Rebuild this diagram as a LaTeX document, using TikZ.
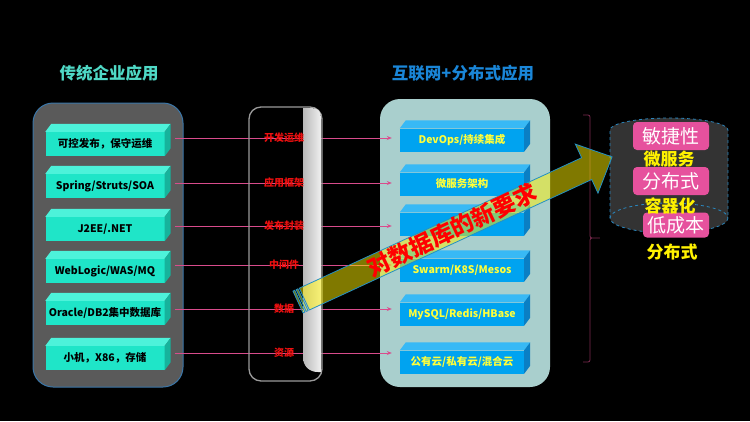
\documentclass[tikz,border=0pt]{standalone}
\usepackage{fontspec}
\setmainfont{Noto Sans CJK SC}
\usepackage{tikz}
\usetikzlibrary{positioning,arrows.meta,calc}
\definecolor{TitleTeal}{HTML}{4FD9C6}
\definecolor{TitleBlue}{HTML}{1A86D8}
\definecolor{PanelGray}{HTML}{5A5A5A}
\definecolor{PanelEdge}{HTML}{3A76A8}
\definecolor{PanelBlue}{HTML}{A9CFCD}
\definecolor{LeftFront}{HTML}{1FE5C8}
\definecolor{LeftTop}{HTML}{4DF2DA}
\definecolor{LeftSide}{HTML}{16B39C}
\definecolor{RightFront}{HTML}{00A3F0}
\definecolor{RightTop}{HTML}{38B9F5}
\definecolor{RightSide}{HTML}{0A7FC4}
\definecolor{BoxYellow}{HTML}{FFFF3A}
\definecolor{LinkPink}{HTML}{D94C8C}
\definecolor{LabelRed}{HTML}{F01010}
\definecolor{BarEdge}{HTML}{9A9A9A}
\definecolor{BraceRed}{HTML}{7A2A4E}
\definecolor{CylGray}{HTML}{333333}
\definecolor{CylEdge}{HTML}{2A86BE}
\definecolor{TagPink}{HTML}{E6519D}
\definecolor{BannerEdge}{HTML}{2390C4}

\begin{document}
\begin{tikzpicture}[x=1pt,y=-1pt,
          every node/.style={font=\bfseries},
          lbox/.style={fill=LeftFront, minimum width=119pt, minimum height=24pt,
            inner sep=0pt, text=black, font=\bfseries\fontsize{10.5}{12}\selectfont},
          rbox/.style={fill=RightFront, minimum width=124pt, minimum height=23pt,
            inner sep=0pt, text=BoxYellow, font=\bfseries\fontsize{10.5}{12}\selectfont},
          link/.style={-{Stealth[length=5pt,width=4pt]},LinkPink,line width=0.8pt},
          mlabel/.style={text=LabelRed, font=\bfseries\fontsize{10}{12}\selectfont},
          tag/.style={fill=TagPink, rounded corners=4pt, text=white, inner sep=0pt,
            minimum width=76pt, minimum height=28pt, font=\fontsize{19}{21}\selectfont},
          ytext/.style={text=yellow, font=\bfseries\fontsize{17}{19}\selectfont}]
        \fill[black] (0,0) rectangle (750,421);
        \useasboundingbox (0,0) rectangle (750,421);
        % titles
        \node[text=TitleTeal, font=\bfseries\fontsize{16.5}{18}\selectfont] (ltitle) at (109,73) {传统企业应用};
        \node[text=TitleBlue, font=\bfseries\fontsize{16.5}{18}\selectfont] (rtitle) at (463,73) {互联网+分布式应用};
        % panels
        \draw[fill=PanelGray, draw=PanelEdge, line width=1pt, rounded corners=20pt]
          (33,103) rectangle (183,387);
        \fill[PanelBlue, rounded corners=20pt] (380,99) rectangle (550,387);
        % left boxes
        \foreach \i/\y/\txt in {1/144/{可控发布，保守运维},2/186/{Spring/Struts/SOA},
            3/229/{J2EE/.NET},4/271/{WebLogic/WAS/MQ},
            5/313/{Oracle/DB2集中数据库},6/358/{小机，X86，存储}}{
          \node[lbox] (l\i) at (105,\y) {\txt};
          \fill[LeftTop] (l\i.north west) -- ++(6,-8) -- ([shift={(6,-8)}]l\i.north east)
            -- (l\i.north east) -- cycle;
          \fill[LeftSide] (l\i.north east) -- ++(6,-8) -- ([shift={(6,-8)}]l\i.south east)
            -- (l\i.south east) -- cycle;
        }
        % right boxes
        \foreach \i/\y/\txt in {1/140/{DevOps/持续集成},2/184/{微服务架构},3/224/{},
            4/270/{Swarm/K8S/Mesos},5/314/{MySQL/Redis/HBase},6/362/{公有云/私有云/混合云}}{
          \node[rbox] (r\i) at (462,\y) {\txt};
          \fill[RightTop] (r\i.north west) -- ++(6,-8) -- ([shift={(6,-8)}]r\i.north east)
            -- (r\i.north east) -- cycle;
          \fill[RightSide] (r\i.north east) -- ++(6,-8) -- ([shift={(6,-8)}]r\i.south east)
            -- (r\i.south east) -- cycle;
        }
        % links
        \foreach \i/\y in {1/138,2/183,3/226,4/265,5/309,6/353}{
          \coordinate (m\i) at (284,\y);
          \draw[link] ([xshift=10pt]l\i.east |- m\i) -- ([xshift=-8pt]r\i.west |- m\i);
        }
        % middle bar
        \draw[BarEdge, line width=1.3pt, rounded corners=12pt] (249,107) rectangle (322,381);
        \shade[left color=gray!55, right color=gray!12]
          (303,108) -- (311,108) .. controls (318,108) and (321,111) .. (321,118)
          -- (321,372) -- (318,372) .. controls (309,372) and (303,366) .. (303,357) -- cycle;
        \foreach \i/\txt in {1/开发运维,2/应用框架,3/发布封装,4/中间件,5/数据,6/资源}{
          \node[mlabel] (mt\i) at (m\i) {\txt};
        }
        % brace
        \draw[BraceRed, line width=0.8pt, rounded corners=2pt]
          (583,115) -- (590,115) -- (590,238) -- (601,238) -- (590,238)
          -- (590,362) -- (583,362);
        % cylinder
        \fill[CylGray] (610,130) rectangle (728,218);
        \fill[CylGray] (669,130) ellipse [x radius=59, y radius=12];
        \fill[CylGray] (669,218) ellipse [x radius=59, y radius=15];
        \draw[CylEdge, dashed, line width=0.8pt]
          (610,218) -- (610,130) .. controls (610,123.4) and (636.4,118) .. (669,118)
          .. controls (701.6,118) and (728,123.4) .. (728,130) -- (728,218);
        \draw[CylEdge, dashed, line width=0.8pt] (669,218) ellipse [x radius=59, y radius=15];
        \node[tag] (agile) at (671,136) {敏捷性};
        \node[tag] (dist) at (671,181) {分布式};
        \node[tag, minimum width=66pt, minimum height=25pt] (cost) at (676,225) {低成本};
        \node[ytext] (micro) at (669,159) {微服务};
        \node[ytext] (cont) at (670,206) {容器化};
        \node[ytext] (distb) at (672,252) {分布式};
        % banner arrow
        \begin{scope}[shift={(298,302)}, rotate=24.8]
          \filldraw[fill=yellow, fill opacity=0.5, draw=BannerEdge, line width=0.8pt]
            (7,-12) -- (318,-12) -- (318,-27) -- (346,0) -- (318,27) -- (318,12)
            -- (7,12) -- cycle;
          \filldraw[fill=yellow, fill opacity=0.5, draw=BannerEdge, line width=0.8pt]
            (0,-12) rectangle (2,12);
          \filldraw[fill=yellow, fill opacity=0.5, draw=BannerEdge, line width=0.8pt]
            (3.5,-12) rectangle (5.5,12);
        \end{scope}
        \node[text=red, rotate=25.5, font=\bfseries\fontsize{23}{25}\selectfont]
          (banner) at (452,230) {对数据库的新要求};
      \end{tikzpicture}
\end{document}
